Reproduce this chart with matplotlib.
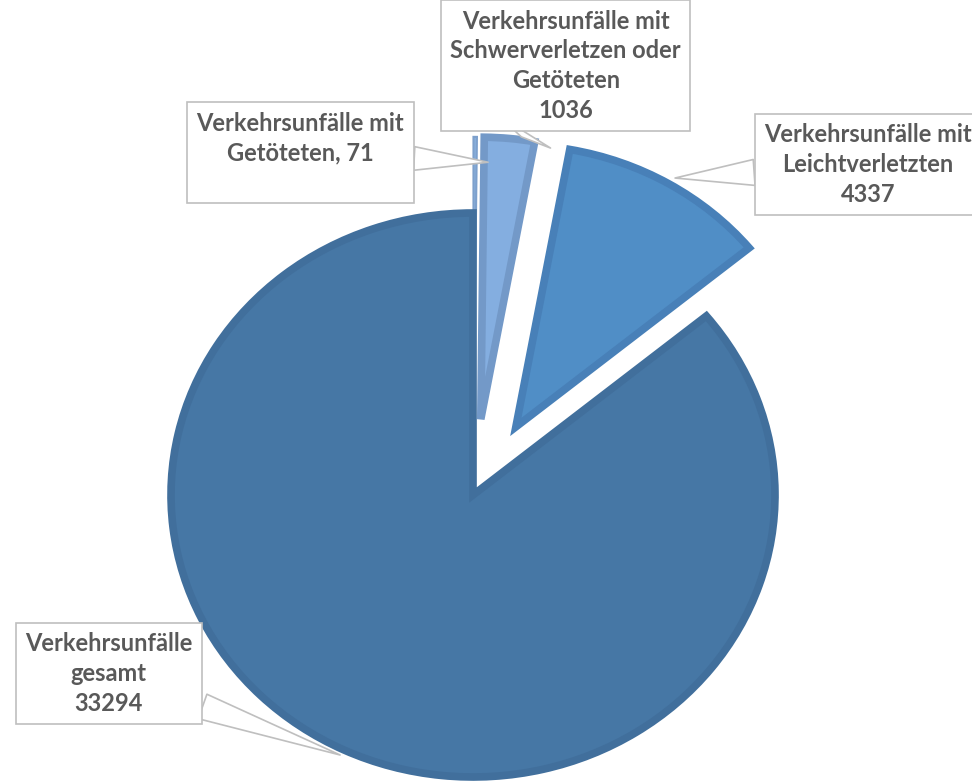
import numpy as np
import matplotlib.pyplot as plt

# data (clockwise from 12 o'clock)
names = ['Verkehrsunfälle mit\nGetöteten',
         'Verkehrsunfälle mit\nSchwerverletzen oder\nGetöteten',
         'Verkehrsunfälle mit\nLeichtverletzten',
         'Verkehrsunfälle\ngesamt']
values = [71, 1036, 4337, 33294]

fills = ['#8AB1DE', '#84AEE0', '#508EC6', '#4677A5']
edges = ['#7DA0CC', '#7399C8', '#4880B8', '#416F9C']
explode = [0.27, 0.27, 0.28, 0]

fig = plt.figure(figsize=(9.72, 7.83), dpi=100)
ax = fig.add_axes([0, 0, 1, 1])

wedges, _ = ax.pie(values, explode=explode, colors=fills, startangle=90,
                   counterclock=False, radius=1,
                   wedgeprops=dict(linewidth=5.5, joinstyle='miter'))
for w, ec in zip(wedges, edges):
    w.set_edgecolor(ec)
wedges[0].set_linewidth(1.5)

ax.set_aspect('auto')
ax.set_xlim(-473 / 302, (972 - 473) / 302)
ax.set_ylim(-(783 - 495) / 282, 495 / 282)
ax.axis('off')

# labels: text, box center (axes fraction), pointer target (data), tail width
texts = [f'{names[0]}, {values[0]}\n',
         f'{names[1]}\n{values[1]}',
         f'{names[2]}\n{values[2]}',
         f'{names[3]}\n{values[3]}']
box_pos = [(0.309, 0.805), (0.582, 0.916), (0.893, 0.790), (0.112, 0.140)]
targets = [(0.05, 1.18), (0.16, 1.27), (0.669, 1.124), (-0.44, -0.922)]
tails = [1.0, 2.6, 1.1, 1.1]

for t, p, xy, tw in zip(texts, box_pos, targets, tails):
    ax.annotate(t, xy=xy, xytext=p, textcoords='axes fraction',
                ha='center', va='center', multialignment='center',
                fontsize=17, fontweight='bold', family='Lato', color='#595959',
                linespacing=1.35,
                bbox=dict(boxstyle='square,pad=0.4', fc='white', ec='#BFBFBF', lw=1.2),
                arrowprops=dict(arrowstyle=f'wedge,tail_width={tw}', fc='white',
                                ec='#BFBFBF', lw=1.2, shrinkA=0, shrinkB=0),
                annotation_clip=False)

fig.savefig('out.png', dpi=100)
